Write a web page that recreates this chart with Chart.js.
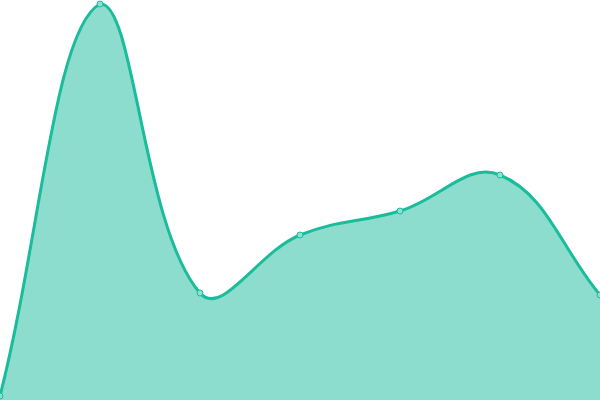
<!DOCTYPE html>
<html>
<head>
<meta charset="utf-8">
<script src="https://cdn.jsdelivr.net/npm/chart.js@4/dist/chart.umd.min.js"></script>
<style>
	html, body { margin: 0; padding: 0; background: #fff; }
	#wrap { width: 600px; height: 400px; }
</style>
</head>
<body>
<div id="wrap"><canvas id="myChart" width="600" height="400"></canvas></div>
<script>
const labels = ["1", "2", "3", "4", "5", "6", "7"];
const values = [1, 99, 26.75, 41.25, 47.25, 56.25, 26.25];

function lineChart(ctx){
	let data = {};
	data.labels = labels;
	data.datasets = [{
		data: values,
		borderColor: "#1abc9c",
		backgroundColor: "rgba(26, 188, 156, 0.5)",
		borderWidth: 3,
		fill: true,
		tension: 0.4,
		pointRadius: 3,
		pointBorderWidth: 1,
		pointBackgroundColor: "#8ce0cf",
		pointBorderColor: "#1abc9c"
	}];

	let options = {
		responsive: false,
		animation: false,
		layout: { padding: 0, autoPadding: false },
		plugins: { legend: { display: false }, tooltip: { enabled: false } },
		scales: {
			x: { display: false },
			y: { display: false, min: 0, max: 100 }
		}
	};

	return new Chart(ctx, { type: "line", data: data, options: options });
}

const ctx = document.getElementById("myChart").getContext("2d");
let chart = lineChart(ctx);
</script>
</body>
</html>
